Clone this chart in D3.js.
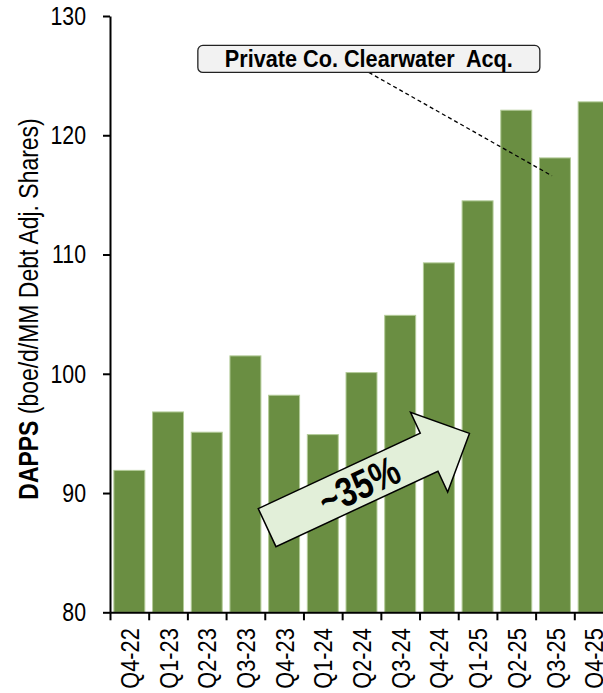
<!DOCTYPE html>
<html>
<head>
<meta charset="utf-8">
<script src="https://cdn.jsdelivr.net/npm/d3@7"></script>
<style>
  body { margin: 0; background: #fff; }
  svg { display: block; }
  text { font-family: "Liberation Sans", Arial, sans-serif; fill: #000; }
</style>
</head>
<body>
<svg id="chart" width="603" height="693"></svg>
<script>
// Quarterly DAPPS (boe/d per MM debt-adjusted shares)
const quarters = ["Q4-22", "Q1-23", "Q2-23", "Q3-23", "Q4-23", "Q1-24", "Q2-24",
                  "Q3-24", "Q4-24", "Q1-25", "Q2-25", "Q3-25", "Q4-25"];
const dapps = [91.9, 96.8, 95.1, 101.5, 98.2, 94.9, 100.1, 104.9, 109.3, 114.5, 122.1, 118.1, 122.8];
const yTicks = [80, 90, 100, 110, 120, 130];

const yTitleBold = "DAPPS";
const yTitleRest = " (boe/d/MM Debt Adj. Shares)";
const calloutText = "Private Co. Clearwater  Acq.";
const calloutQuarter = "Q3-25";
const growthLabel = "~35%";

// horizontal condensing factor for the narrow typeface look
const NARROW = 0.82;

const svg = d3.select("#chart");
const margin = { left: 110, top: 16, bottom: 612.3, right: 613 };

const x = d3.scaleBand()
  .domain(quarters)
  .range([margin.left, margin.right])
  .paddingInner(0.2)
  .paddingOuter(0.1);

const y = d3.scaleLinear()
  .domain([80, 130])
  .range([margin.bottom, margin.top]);

// position on the category axis measured in steps from the left edge
const xAt = i => margin.left + i * x.step();

// bars
svg.append("g")
  .selectAll("rect")
  .data(dapps)
  .join("rect")
  .attr("x", (d, i) => x(quarters[i]))
  .attr("y", d => y(d))
  .attr("width", x.bandwidth())
  .attr("height", d => y(80) - y(d))
  .attr("fill", "#6a8e42")
  .attr("stroke", "#b3cb98")
  .attr("stroke-width", 1);

// y axis
const yAxis = svg.append("g")
  .attr("transform", `translate(${margin.left},0)`)
  .call(d3.axisLeft(y).tickValues(yTicks).tickFormat(d3.format("d"))
    .tickSize(7).tickSizeOuter(0).tickPadding(17));
yAxis.select(".domain").attr("stroke", "#000").attr("stroke-width", 2);
yAxis.selectAll(".tick line").attr("stroke", "#000").attr("stroke-width", 2);
yAxis.selectAll(".tick text")
  .attr("font-size", 26)
  .style("font-family", null)
  .attr("x", -24 / NARROW)
  .attr("transform", `scale(${NARROW},1)`);

// x axis: baseline with ticks at category boundaries
const idx = d3.scaleLinear().domain([0, quarters.length]).range([margin.left, margin.right]);
const xAxisTicks = svg.append("g")
  .attr("transform", `translate(0,${y(80)})`)
  .call(d3.axisBottom(idx).tickValues(d3.range(0, quarters.length + 1))
    .tickFormat("").tickSize(8).tickSizeOuter(0));
xAxisTicks.select(".domain").attr("stroke", "#000").attr("stroke-width", 2);
xAxisTicks.selectAll(".tick line").attr("stroke", "#000").attr("stroke-width", 2);

// x axis labels, rotated
const xLabels = svg.append("g")
  .attr("transform", `translate(0,${y(80)})`)
  .call(d3.axisBottom(x).tickSize(0));
xLabels.select(".domain").remove();
xLabels.selectAll(".tick text")
  .attr("font-size", 26.5)
  .style("font-family", null)
  .attr("transform", `rotate(-90) scale(${NARROW},1)`)
  .attr("x", -16 / NARROW)
  .attr("y", 0)
  .attr("dy", "0.36em")
  .attr("text-anchor", "end");

// y axis title
const yTitle = svg.append("text")
  .attr("transform", `translate(38,309) rotate(-90) scale(${NARROW},1)`)
  .attr("text-anchor", "middle")
  .attr("font-size", 28);
yTitle.append("tspan").attr("font-weight", "bold").text(yTitleBold);
yTitle.append("tspan").style("white-space", "pre").text(yTitleRest);

// callout: label box with dashed leader to the Q3-25 bar
const qi = quarters.indexOf(calloutQuarter);
const boxCx = xAt(6.69), boxCy = y(126.4);
const boxW = 342, boxH = 27;
svg.append("line")
  .attr("x1", boxCx).attr("y1", boxCy + boxH / 2)
  .attr("x2", x(calloutQuarter) + x.bandwidth() / 2 - 3)
  .attr("y2", y(dapps[qi] - 1.5))
  .attr("stroke", "#000").attr("stroke-width", 1.3)
  .attr("stroke-dasharray", "4,3");
svg.append("rect")
  .attr("x", boxCx - boxW / 2).attr("y", boxCy - boxH / 2)
  .attr("width", boxW).attr("height", boxH)
  .attr("rx", 5)
  .attr("fill", "#f2f2f2").attr("stroke", "#222").attr("stroke-width", 1.3);
svg.append("text")
  .attr("x", boxCx).attr("y", boxCy)
  .attr("dy", "0.35em")
  .attr("text-anchor", "middle")
  .attr("font-size", 23)
  .attr("font-weight", "bold")
  .style("white-space", "pre")
  .attr("textLength", 288)
  .attr("lengthAdjust", "spacingAndGlyphs")
  .text(calloutText);

// growth arrow from the Q4-23 area up toward Q1-25
const tail = [xAt(4.06), y(87.1)];
const tip = [xAt(9.29), y(95.0)];
const dx = tip[0] - tail[0], dy = tip[1] - tail[1];
const len = Math.hypot(dx, dy);
const ux = dx / len, uy = dy / len;     // along
const px = -uy, py = ux;                 // perpendicular
const shaftHalf = 21, headHalf = 44, headLen = 44.5;
const base = [tip[0] - ux * headLen, tip[1] - uy * headLen];
const pt = (p, a, b) => [p[0] + px * a + ux * b, p[1] + py * a + uy * b];
const arrowPts = [
  pt(tail, -shaftHalf, 0),
  pt(base, -shaftHalf, 0),
  pt(base, -headHalf, 0),
  tip,
  pt(base, headHalf, 0),
  pt(base, shaftHalf, 0),
  pt(tail, shaftHalf, 0)
];
svg.append("path")
  .attr("d", d3.line()(arrowPts) + "Z")
  .attr("fill", "#e2efd9")
  .attr("stroke", "#000")
  .attr("stroke-width", 1.5)
  .attr("stroke-linejoin", "miter");
const angle = Math.atan2(dy, dx) * 180 / Math.PI;
const lab = pt(tail, 0, 101);
svg.append("text")
  .attr("transform", `translate(${lab[0]},${lab[1]}) rotate(${angle}) scale(0.8,1)`)
  .attr("text-anchor", "middle")
  .attr("dy", "0.36em")
  .attr("font-size", 41)
  .attr("font-weight", "bold")
  .text(growthLabel);
</script>
</body>
</html>
